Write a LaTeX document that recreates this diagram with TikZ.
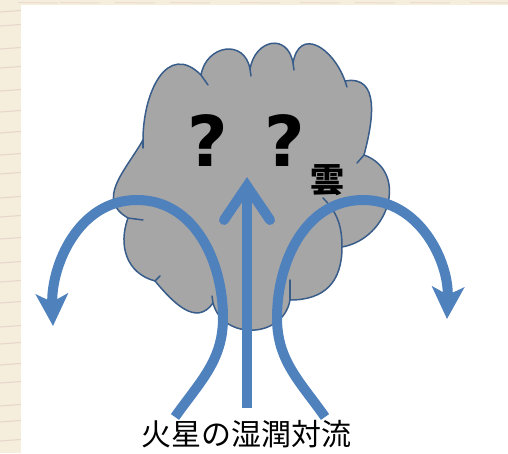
\documentclass[tikz,border=0pt]{standalone}
\usepackage{fontspec}
\newfontfamily\jpfont{Noto Sans CJK JP}
\newfontfamily\qfont{DejaVu Sans}
\usetikzlibrary{arrows.meta}
\usepackage{xcolor}
\definecolor{flowblue}{RGB}{79,129,189}
\definecolor{cloudedge}{RGB}{56,93,138}
\definecolor{cloudgray}{RGB}{166,166,166}
\definecolor{paper}{RGB}{246,238,221}
\definecolor{paperstreak}{RGB}{226,208,200}

\begin{document}
\begin{tikzpicture}[
  x=1pt, y=1pt,
  cloudline/.style={draw=cloudedge, line width=1.5pt, line join=round},
  tail/.style={draw=cloudedge, line width=1.5pt, line cap=round},
  flow/.style={draw=flowblue, line width=10pt},
  flowarr/.style={flow, -{Stealth[length=32pt, width=32pt, inset=8pt]}},
  qmark/.style={font=\qfont\bfseries\fontsize{70}{70}\selectfont, inner sep=0pt, anchor=base},
  kumo/.style={font=\jpfont\bfseries\fontsize{34}{34}\selectfont, inner sep=0pt, anchor=base},
  caption/.style={font=\jpfont\fontsize{30}{30}\selectfont, inner sep=0pt, anchor=base},
]
\useasboundingbox (0,0) rectangle (508,453);

% paper strip at top and left
\fill[paper] (0,0) rectangle (508,453);
\foreach \y in {12,31,47,70,88,109,126,150,171,190,214,236,255,279,298,320,341,362,385,404,427,441}
  \draw[paperstreak, line width=1.2pt, opacity=.7] (0,\y) -- (21,\y+1.5);
\foreach \x in {18,60,115,170,240,300,355,410,470}
  \draw[paperstreak, line width=1pt, opacity=.6] (\x,450.5) -- (\x+40,450);
\fill[white] (21,0) rectangle (508,448);

% cloud
\path[fill=cloudgray, cloudline]
  (143,313) to[out=90,in=135,looseness=1.4] (201,378)
  to[out=80,in=100,looseness=1.6] (250,384)
  to[out=80,in=100,looseness=1.8] (293,390)
  to[out=80,in=110,looseness=1.7] (345,372)
  to[out=10,in=75,looseness=1.2] (364,298)
  to[out=-20,in=10,looseness=1.3] (342,206)
  to[out=-90,in=0,looseness=1.2] (290,153)
  to[out=-100,in=-75,looseness=1.3] (213,150)
  to[out=-125,in=-50,looseness=1.2] (155,172)
  to[out=165,in=-110,looseness=1.1] (128,235)
  to[out=150,in=-120,looseness=1.2] cycle;

% inner ends of the puffs
\draw[tail] (143,313) -- (143,305);
\draw[tail] (201,378) -- (208,368);
\draw[tail] (250,384) -- (251,377);
\draw[tail] (293,390) -- (294,383);
\draw[tail] (345,372) -- (347,366);
\draw[tail] (364,298) -- (357,290);
\draw[tail] (342,206) to[out=90,in=-45] (323,255);
\draw[tail] (290,153) -- (290,173);
\draw[tail] (213,150) -- (212,157);
\draw[tail] (155,172) -- (160,177);
\draw[tail] (128,235) -- (143,233);

% labels
\node[qmark] (qq) at (246.5,286) {?\hspace{37pt}?};
\node[kumo] (cloud) at (327,261) {雲};
\node[caption] (title) at (246.5,8) {火星の湿潤対流};

% convection flow
\coordinate (upfoot) at (247,45);
\coordinate (upbend) at (247,267);
\coordinate (upwingL) at (224,233);
\coordinate (upwingR) at (270,233);
\coordinate (leftfoot) at (175,36);
\coordinate (lefttip) at (53,127);
\coordinate (rightfoot) at (325,36);
\coordinate (righttip) at (447,134);

\draw[flow] (upfoot) -- (upbend);
\draw[flow, line cap=round, line join=miter] (upwingL) -- (upbend) -- (upwingR);
\draw[flowarr] (leftfoot) to[out=55,in=-90] (223,135)
  to[out=90,in=0] (137,253) to[out=180,in=92] (lefttip);
\draw[flowarr] (rightfoot) to[out=125,in=-90] (277,135)
  to[out=90,in=180] (363,253) to[out=0,in=88] (righttip);
\end{tikzpicture}
\end{document}
